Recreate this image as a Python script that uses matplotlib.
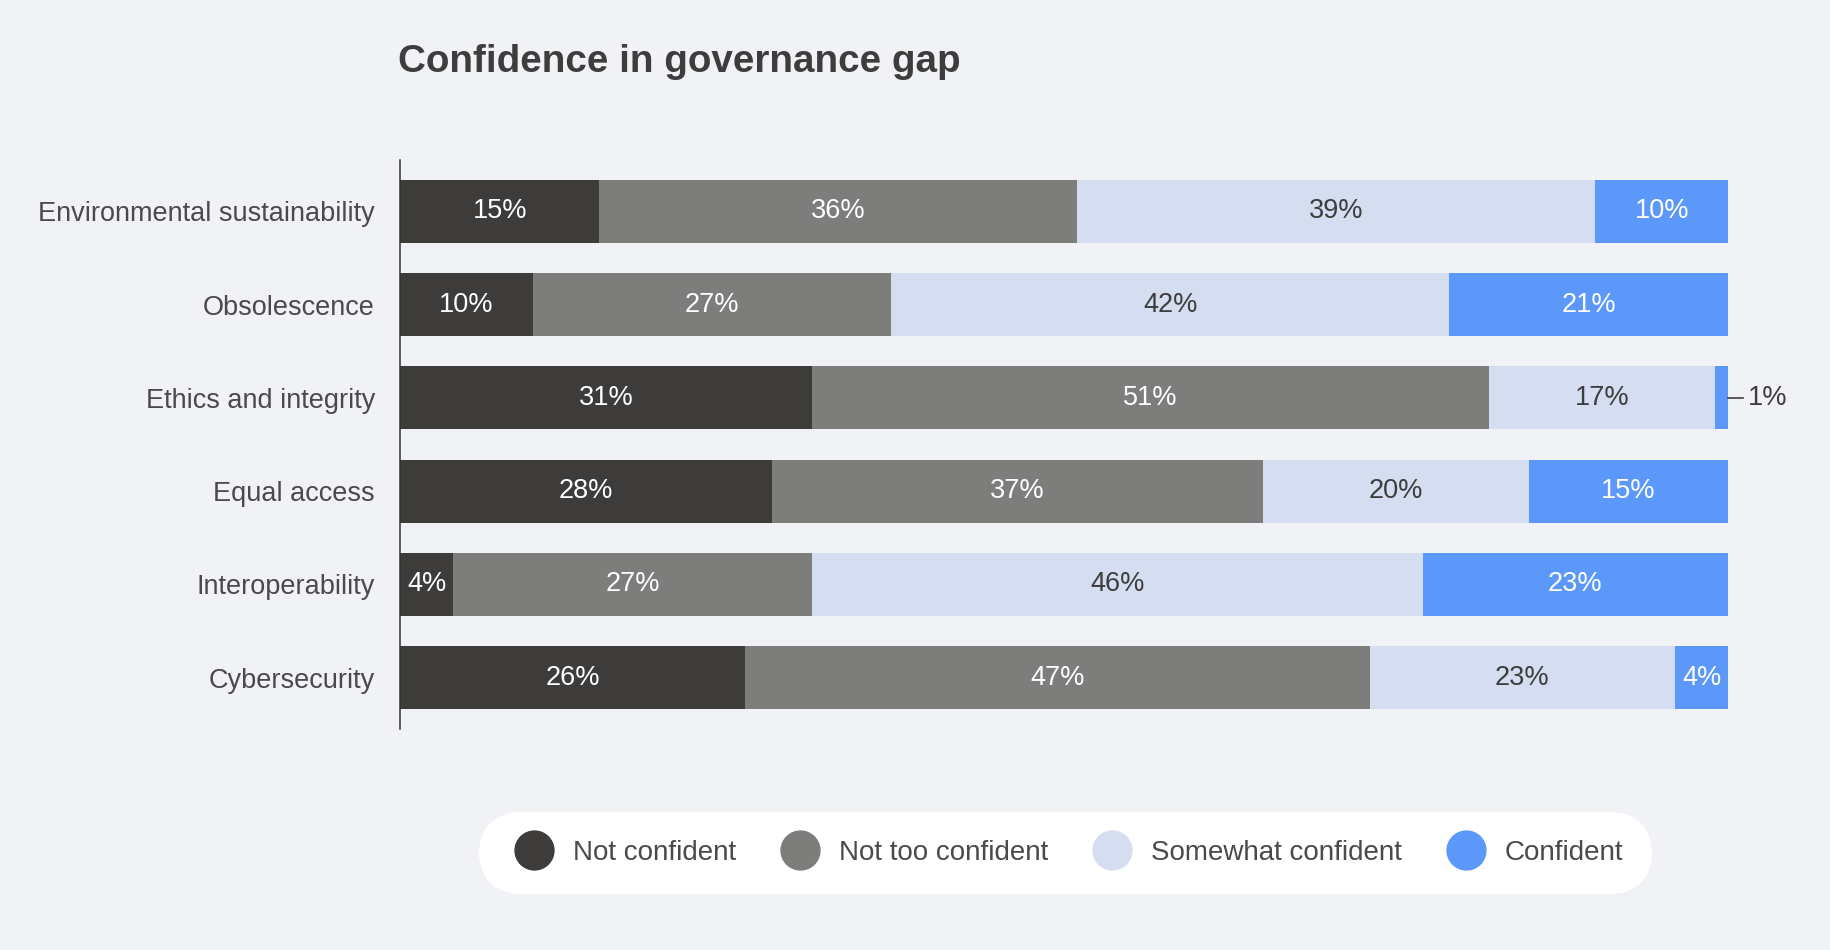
import matplotlib.pyplot as plt
from matplotlib.lines import Line2D
import numpy as np

plt.rcParams['font.family'] = ['Liberation Sans', 'DejaVu Sans']

categories = ['Environmental sustainability', 'Obsolescence', 'Ethics and integrity',
              'Equal access', 'Interoperability', 'Cybersecurity']
series = ['Not confident', 'Not too confident', 'Somewhat confident', 'Confident']
not_confident = [15, 10, 31, 28, 4, 26]
not_too_confident = [36, 27, 51, 37, 27, 47]
somewhat_confident = [39, 42, 17, 20, 46, 23]
confident = [10, 21, 1, 15, 23, 4]

colors = ['#3d3c3a', '#7d7d7b', '#d5ddf0', '#5b98f9']
text_colors = ['white', 'white', '#3d3d3d', 'white']
bg = '#f0f2f5'

fig = plt.figure(figsize=(18.3, 9.5), dpi=100, facecolor=bg)
ax = fig.add_axes([0.2186, 0.2326, 0.9443 - 0.2186, 0.8316 - 0.2326])
ax.set_facecolor(bg)

y = np.arange(len(categories))
left = np.zeros(len(categories))
data = [not_confident, not_too_confident, somewhat_confident, confident]
for vals, c, tc in zip(data, colors, text_colors):
    vals = np.array(vals)
    ax.barh(y, vals, left=left, height=0.675, color=c, linewidth=0)
    for yi, l, v in zip(y, left, vals):
        if v >= 3:
            ax.text(l + v / 2, yi, f'{v}%', ha='center', va='center',
                    color=tc, fontsize=19.5)
        else:
            # tiny segment: label outside with a short leader
            ax.plot([l + v, l + v + 1.1], [yi, yi], color='#3d3d3d', lw=1.2,
                    clip_on=False)
            ax.text(l + v + 1.5, yi, f'{v}%', ha='left', va='center',
                    color='#3d3d3d', fontsize=19.5)
    left += vals

ax.set_xlim(0, 100)
ax.set_ylim(len(categories) - 0.45, -0.55)
ax.set_yticks(y)
ax.set_yticklabels(categories, fontsize=19.5, color='#4a4a4a')
ax.tick_params(axis='y', length=0, pad=18)
ax.set_xticks([])
for s in ['top', 'right', 'bottom']:
    ax.spines[s].set_visible(False)
ax.spines['left'].set_color('#333333')
ax.spines['left'].set_linewidth(1.1)

fig.text(0.2175, 0.924, 'Confidence in governance gap', fontsize=27.8, fontweight='bold',
         color='#3d3d3d', va='baseline', ha='left')

handles = [Line2D([], [], marker='o', linestyle='none', markersize=28,
                  markerfacecolor=c, markeredgecolor=c) for c in colors]
leg = fig.legend(handles, series, loc='center', bbox_to_anchor=(0.582, 0.1026),
                 ncol=4, frameon=True, fontsize=20, handletextpad=0.4,
                 columnspacing=1.3, borderpad=0.8, labelcolor='#4a4a4a')
frame = leg.get_frame()
frame.set_facecolor('white')
frame.set_edgecolor('white')
frame.set_alpha(1)
frame.set_boxstyle('round', pad=0.2, rounding_size=1.6)

fig.savefig('out.png', dpi=100, facecolor=bg)
